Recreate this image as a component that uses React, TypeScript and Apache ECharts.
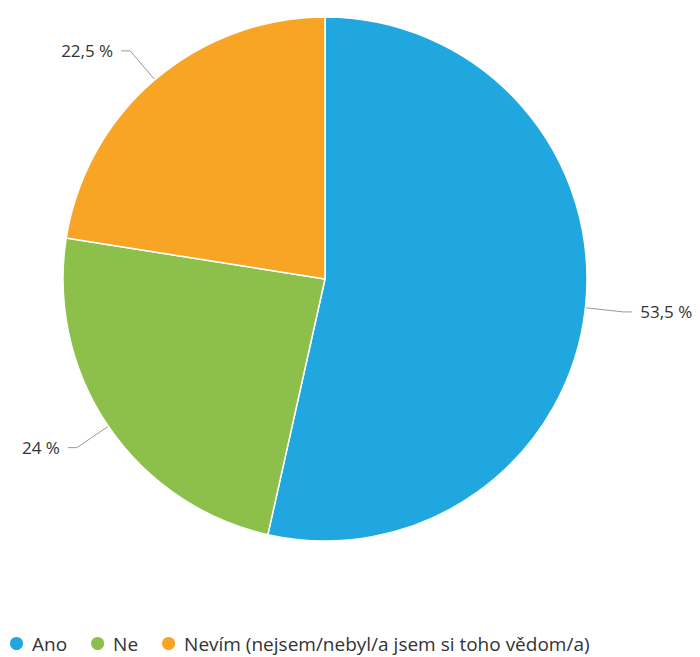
import React, { useEffect, useRef } from "react";
import * as echarts from "echarts";

const categories = ["Ano", "Ne", "Nevím (nejsem/nebyl/a jsem si toho vědom/a)"];
const values = [53.5, 24, 22.5];
const colors = ["#21a7df", "#8cc04b", "#f8a526"];

export default function App() {
  const ref = useRef<HTMLDivElement>(null);
  useEffect(() => {
    document.body.style.margin = "0";
    const chart = echarts.init(ref.current!, null, { renderer: "svg" });
    chart.setOption({
      animation: false,
      color: colors,
      legend: {
        data: categories,
        left: 8,
        top: 634,
        padding: 0,
        icon: "circle",
        itemWidth: 15,
        itemHeight: 15,
        itemGap: 22,
        textStyle: { fontFamily: "Open Sans", fontSize: 19, color: "#333", padding: [0, 0, 0, 3] },
      },
      series: [
        {
          type: "pie",
          center: [325, 279],
          radius: 262,
          startAngle: 90,
          clockwise: true,
          itemStyle: { borderColor: "#fff", borderWidth: 1.5 },
          label: {
            formatter: (p: any) => String(p.value).replace(".", ",") + " %",
            fontFamily: "Open Sans",
            fontSize: 17,
            color: "#333",
            padding: [0, 3],
            overflow: "none",
          },
          labelLine: { length: 38, length2: 9, lineStyle: { color: "#999", width: 1 } },
          data: categories.map((c, i) => ({ name: c, value: values[i] })),
        },
      ],
    });
    return () => chart.dispose();
  }, []);
  return <div ref={ref} style={{ width: 700, height: 657 }} />;
}
